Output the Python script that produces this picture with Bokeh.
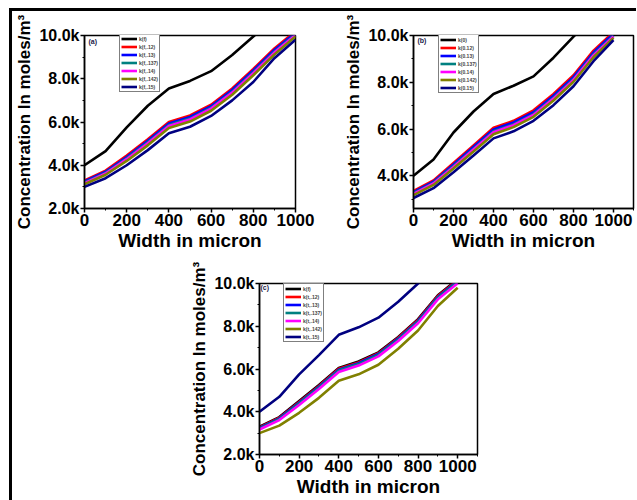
from bokeh.plotting import figure
from bokeh.models import FixedTicker, Legend, LegendItem, Label, Div, Spacer, Range1d
from bokeh.layouts import row, column
from bokeh.embed import file_html
from bokeh.resources import INLINE

FONT = "Liberation Sans"

# ---------------- data ----------------
x_um = [0, 100, 200, 300, 400, 500, 600, 700, 800, 900, 1000]

x_ticks = [0, 200, 400, 600, 800, 1000]
x_minor = [100, 300, 500, 700, 900, 1100]
y_ticks = [2000, 4000, 6000, 8000, 10000]
y_tick_labels = ["2.0k", "4.0k", "6.0k", "8.0k", "10.0k"]
y_minor = [3000, 5000, 7000, 9000]

# panel (a)
a_labels = ["k(f)", "k(f,.12)", "k(f,.13)", "k(f,.137)", "k(f,.14)", "k(f,.142)", "k(f,.15)"]
a_black = [4000, 4650, 5750, 6750, 7550, 7900, 8350, 9100, 9950, 10800, 11600]
a_red = [3300, 3750, 4450, 5200, 6000, 6300, 6800, 7550, 8450, 9400, 10200]
a_blue = [3250, 3700, 4380, 5130, 5930, 6230, 6730, 7480, 8380, 9330, 10130]
a_teal = [3200, 3650, 4320, 5060, 5860, 6160, 6660, 7400, 8300, 9250, 10060]
a_magenta = [3170, 3620, 4280, 5020, 5820, 6120, 6620, 7360, 8260, 9210, 10020]
a_olive = [3120, 3560, 4200, 4920, 5720, 6020, 6520, 7260, 8160, 9120, 9950]
a_navy = [3000, 3400, 4000, 4700, 5480, 5780, 6280, 7000, 7850, 8950, 9800]

# panel (b)
b_labels = ["k(0)", "k(0.12)", "k(0.13)", "k(0.137)", "k(0.14)", "k(0.142)", "k(0.15)"]
b_black = [4000, 4700, 5850, 6750, 7500, 7850, 8250, 9050, 9950, 10800, 11600]
b_red = [3350, 3800, 4550, 5300, 6050, 6350, 6800, 7500, 8300, 9350, 10150]
b_blue = [3300, 3750, 4480, 5230, 5980, 6280, 6720, 7420, 8220, 9270, 10080]
b_teal = [3250, 3700, 4420, 5160, 5900, 6200, 6640, 7340, 8140, 9190, 10000]
b_magenta = [3220, 3670, 4380, 5120, 5860, 6160, 6600, 7300, 8100, 9150, 9960]
b_olive = [3170, 3610, 4310, 5040, 5780, 6080, 6520, 7220, 8020, 9070, 9900]
b_navy = [3050, 3470, 4150, 4870, 5600, 5900, 6350, 7020, 7830, 8900, 9800]

# panel (c)
c_labels = ["k(f)", "k(t,.12)", "k(t,.13)", "k(t,.137)", "k(t,.14)", "k(t,.142)", "k(t,.15)"]
c_black = [3300, 3750, 4500, 5250, 6050, 6350, 6780, 7500, 8330, 9450, 10200]
c_red = [3270, 3720, 4460, 5210, 6010, 6310, 6740, 7460, 8290, 9410, 10160]
c_blue = [3240, 3690, 4420, 5170, 5970, 6270, 6700, 7420, 8250, 9370, 10120]
c_teal = [3210, 3660, 4380, 5130, 5930, 6230, 6660, 7380, 8210, 9330, 10080]
c_magenta = [3170, 3610, 4320, 5060, 5860, 6160, 6590, 7310, 8140, 9260, 10010]
c_olive = [3000, 3350, 3950, 4650, 5450, 5750, 6200, 6950, 7800, 8950, 9800]
c_navy = [4000, 4700, 5750, 6650, 7600, 7950, 8400, 9150, 10000, 10800, 11600]

COLORS = ["black", "red", "blue", "#008080", "magenta", "#808000", "#000080"]


def make_panel(series, labels, tag, xmax, ymin, size, borders, leg_loc, tag_pos):
    w, h = size
    bl, br, bt, bb = borders
    p = figure(width=w, height=h, output_backend="svg", toolbar_location=None,
               x_range=Range1d(0, xmax), y_range=Range1d(ymin, 10000),
               min_border_left=bl, min_border_right=br, min_border_top=bt, min_border_bottom=bb)
    p.grid.visible = False
    p.outline_line_color = "black"
    p.outline_line_width = 1.5
    p.background_fill_color = "white"
    p.border_fill_color = "white"

    items = []
    for vals, lab, col in zip(series, labels, COLORS):
        r = p.line(x_um, vals, line_color=col, line_width=2.6)
        items.append(LegendItem(label=lab, renderers=[r]))

    p.xaxis.ticker = FixedTicker(ticks=x_ticks, minor_ticks=x_minor)
    p.yaxis.ticker = FixedTicker(ticks=[t for t in y_ticks if t >= ymin],
                                 minor_ticks=[t for t in y_minor if t >= ymin])
    p.yaxis.major_label_overrides = {t: l for t, l in zip(y_ticks, y_tick_labels)}
    p.xaxis.axis_label = "Width in micron"
    p.yaxis.axis_label = "Concentration In moles/m\u00b3"
    for ax in (p.xaxis[0], p.yaxis[0]):
        ax.major_label_text_font = FONT
        ax.major_label_text_font_style = "bold"
        ax.major_label_text_font_size = "16px"
        ax.major_label_text_color = "black"
        ax.axis_label_text_font = FONT
        ax.axis_label_text_font_style = "bold"
        ax.axis_label_text_color = "black"
        ax.axis_line_width = 1.5
        ax.axis_line_color = "black"
        ax.major_tick_out = 4
        ax.major_tick_in = 0
        ax.minor_tick_out = 2
        ax.minor_tick_in = 0
        ax.major_tick_line_width = 1.5
        ax.major_label_standoff = 1
    p.xaxis.major_label_text_font_size = "17px"
    p.xaxis.axis_label_text_font_size = "19px"
    p.yaxis.axis_label_text_font_size = "17px"
    p.xaxis.axis_label_standoff = 1
    p.yaxis.axis_label_standoff = 2

    leg = Legend(items=items, location=leg_loc, label_text_font=FONT, label_text_font_style="bold",
                 label_text_font_size="5px", glyph_width=16, glyph_height=7, label_height=7,
                 label_width=10, spacing=1, padding=1, margin=0, label_standoff=2,
                 border_line_color="black", border_line_width=1, background_fill_alpha=1)
    p.add_layout(leg)

    p.add_layout(Label(x=tag_pos[0], y=tag_pos[1], x_units="screen", y_units="screen",
                       text=tag, text_align="left", text_baseline="top", text_font=FONT,
                       text_font_style="bold", text_font_size="7px", text_color="#1a1a4a"))
    return p


pa = make_panel([a_black, a_red, a_blue, a_teal, a_magenta, a_olive, a_navy], a_labels, "(a)",
                1000, 2000, (318, 247), (68, 35, 22, 50), (35, 116), (4, 171))
pb = make_panel([b_black, b_red, b_blue, b_teal, b_magenta, b_olive, b_navy], b_labels, "(b)",
                1100, 2600, (306, 247), (83, 3, 24, 48), (25, 115), (4, 172))
pc = make_panel([c_black, c_red, c_blue, c_teal, c_magenta, c_olive, c_navy], c_labels, "(c)",
                1100, 2000, (314, 241), (76, 20, 25, 10), (24, 112), (1, 171))

left_bar = Div(text='<div style="width:3px;height:492px;background:#000;"></div>',
               width=3, height=492, margin=0, styles={"background-color": "black"})
top_bar = Div(text='<div style="width:624px;height:3px;background:#000;"></div>',
              width=624, height=3, margin=0, styles={"background-color": "black", "overflow": "hidden"})
gap = Spacer(width=171, height=241, margin=0)

inner = row(left_bar, column(top_bar, row(pa, pb), row(gap, pc)))
layout = row(Spacer(width=9, height=500, margin=0),
             column(Spacer(width=627, height=8, margin=0), inner))

open("out.html", "w").write(file_html(layout, INLINE))
